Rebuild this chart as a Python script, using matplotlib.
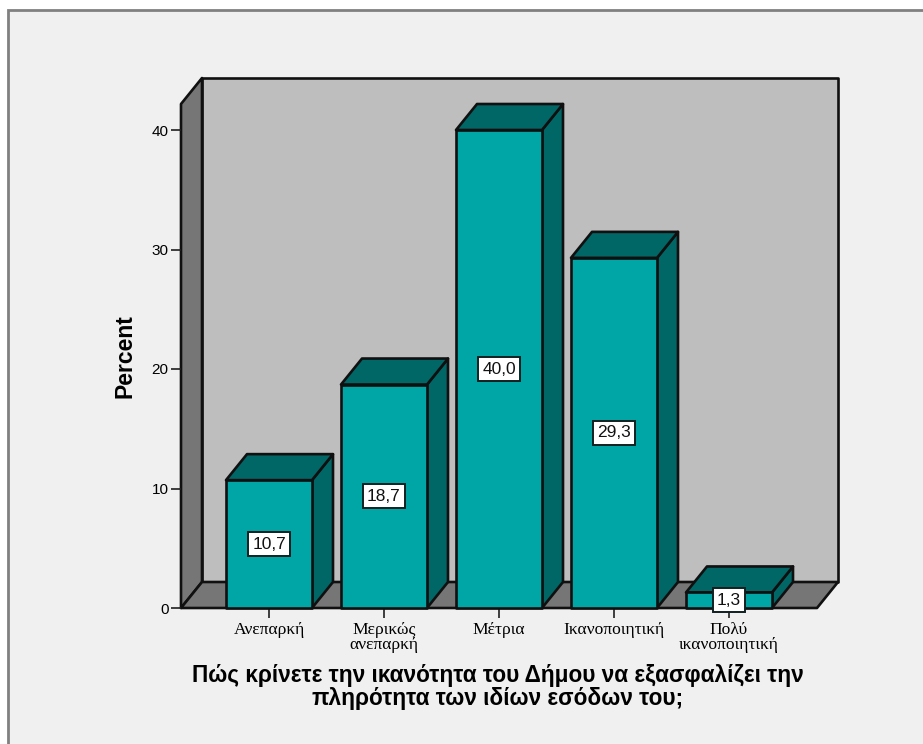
import matplotlib
matplotlib.use('Agg')
import matplotlib.pyplot as plt
from matplotlib.patches import Polygon, Rectangle

# Valores do gráfico
categorias = ['Ανεπαρκή', 'Μερικώς\nανεπαρκή', 'Μέτρια', 'Ικανοποιητική', 'Πολύ\nικανοποιητική']
percentuais = [10.7, 18.7, 40.0, 29.3, 1.3]
rotulos = ['10,7', '18,7', '40,0', '29,3', '1,3']
ticks_y = [0, 10, 20, 30, 40]
titulo_x = 'Πώς κρίνετε την ικανότητα του Δήμου να εξασφαλίζει την\nπληρότητα των ιδίων εσόδων του;'

W, H = 923, 744
LARGURA = 86 / 115      # largura da barra
PROF_X = 21 / 115       # profundidade em unidades de categoria
PROF_Y = 26 / 11.95     # profundidade em unidades de percentual
X0, X1 = -88 / 115, 548 / 115
Y1 = 504 / 11.95

COR_FRENTE = '#00a6a6'
COR_ESCURA = '#006666'
COR_PAREDE = '#bebebe'
COR_LATERAL = '#767676'
LINHA = '#101010'

fig = plt.figure(figsize=(W / 100, H / 100), dpi=100, facecolor='white')

# Painel de fundo com moldura cinza
fig.add_artist(Rectangle((8 / W, 1 - 760 / H), 920 / W, 750 / H, transform=fig.transFigure,
                         facecolor='#f0f0f0', edgecolor='#808080', linewidth=2, zorder=-1))

ax = fig.add_axes([181 / W, 1 - 608 / H, (838 - 181) / W, 530 / H])
ax.set_xlim(X0, X1 + PROF_X)
ax.set_ylim(0, Y1 + PROF_Y)
ax.patch.set_visible(False)
for s in ax.spines.values():
    s.set_visible(False)


def poligono(pontos, cor, z=1):
    ax.add_patch(Polygon(pontos, closed=True, facecolor=cor, edgecolor=LINHA,
                         linewidth=1.9, joinstyle='round', clip_on=False, zorder=z))


# Parede do fundo, lateral e chão
poligono([(X0 + PROF_X, PROF_Y), (X1 + PROF_X, PROF_Y), (X1 + PROF_X, Y1 + PROF_Y), (X0 + PROF_X, Y1 + PROF_Y)], COR_PAREDE)
poligono([(X0, 0), (X0 + PROF_X, PROF_Y), (X0 + PROF_X, Y1 + PROF_Y), (X0, Y1)], COR_LATERAL)
poligono([(X0, 0), (X1, 0), (X1 + PROF_X, PROF_Y), (X0 + PROF_X, PROF_Y)], COR_LATERAL)

# Barras 3D
for i, v in enumerate(percentuais):
    esq, dir_ = i - LARGURA / 2, i + LARGURA / 2
    poligono([(dir_, 0), (dir_ + PROF_X, PROF_Y), (dir_ + PROF_X, v + PROF_Y), (dir_, v)], COR_ESCURA, 3)
    poligono([(esq, v), (dir_, v), (dir_ + PROF_X, v + PROF_Y), (esq + PROF_X, v + PROF_Y)], COR_ESCURA, 3)
    poligono([(esq, 0), (dir_, 0), (dir_, v), (esq, v)], COR_FRENTE, 4)
    ax.text(i, v / 2, rotulos[i], ha='center', va='center', fontsize=12.5, color='#111111',
            family='Liberation Sans', zorder=6,
            bbox=dict(boxstyle='square,pad=0.25', facecolor='white', edgecolor='#102020', linewidth=1.4))

ax.set_xticks(range(len(categorias)))
ax.set_xticklabels(categorias, family='Liberation Serif', fontsize=12.6, linespacing=0.95)
ax.set_yticks(ticks_y)
ax.set_yticklabels([str(t) for t in ticks_y], family='Liberation Sans', fontsize=11)
ax.tick_params(axis='x', length=7.5, width=1.2, pad=2.5, color='#202020')
ax.tick_params(axis='y', length=7, width=1.2, pad=2, color='#202020')

fig.text(125 / W, 1 - 356 / H, 'Percent', rotation=90, ha='center', va='center', fontsize=16.5,
         fontweight='bold', family='Liberation Sans')
fig.text(498 / W, 1 - 687 / H, titulo_x, ha='center', va='center', fontsize=16.3, fontweight='bold',
         family='Liberation Sans', linespacing=0.95)

fig.savefig('out.png', dpi=100)
